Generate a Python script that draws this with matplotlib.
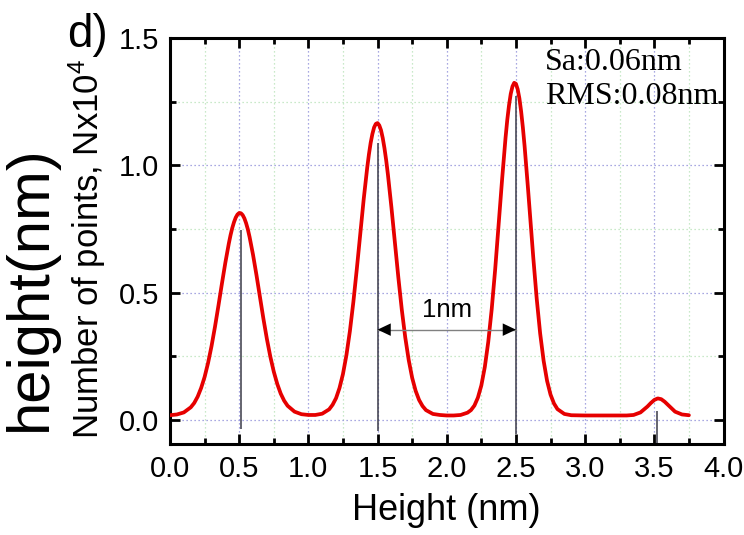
import matplotlib
matplotlib.use("Agg")
import matplotlib.pyplot as plt
from matplotlib.ticker import MultipleLocator, FormatStrFormatter

plt.rcParams['font.family'] = ['Liberation Sans', 'DejaVu Sans']
plt.rcParams['mathtext.fontset'] = 'custom'
plt.rcParams['mathtext.rm'] = 'Liberation Sans'
plt.rcParams['mathtext.it'] = 'Liberation Sans'

# Height histogram (number of points, x10^4) versus height in nm
height_nm = [0.00, 0.05, 0.10, 0.15, 0.175, 0.20, 0.225, 0.25, 0.275, 0.30, 0.325, 0.35,
             0.375, 0.40, 0.425, 0.4375, 0.45, 0.4625, 0.475, 0.4875, 0.50, 0.5125, 0.525,
             0.5375, 0.55, 0.5625, 0.575, 0.60, 0.625, 0.65, 0.675, 0.70, 0.725, 0.75,
             0.775, 0.80, 0.825, 0.85, 0.90, 0.95, 1.00,
             1.05, 1.10, 1.15, 1.175, 1.20, 1.225, 1.25, 1.275, 1.30, 1.325, 1.35, 1.375,
             1.40, 1.425, 1.4375, 1.45, 1.4625, 1.475, 1.4875, 1.50, 1.5125, 1.525, 1.5375,
             1.55, 1.5625, 1.575, 1.60, 1.625, 1.65, 1.675, 1.70, 1.725, 1.75, 1.775, 1.80,
             1.825, 1.85, 1.90, 1.95, 2.00,
             2.05, 2.10, 2.15, 2.175, 2.20, 2.225, 2.25, 2.275, 2.30, 2.325, 2.35, 2.375,
             2.40, 2.425, 2.4375, 2.45, 2.4625, 2.475, 2.4875, 2.50, 2.5125, 2.525, 2.5375,
             2.55, 2.5625, 2.575, 2.5875, 2.60, 2.625, 2.65, 2.675, 2.70, 2.725, 2.75,
             2.775, 2.80, 2.85, 2.90,
             3.00, 3.10, 3.20, 3.30, 3.35, 3.40, 3.45, 3.475, 3.50, 3.525, 3.55, 3.575,
             3.60, 3.65, 3.70, 3.75]
n_points = [0.019, 0.022, 0.030, 0.050, 0.067, 0.092, 0.126, 0.169, 0.224, 0.290, 0.366, 0.449,
            0.535, 0.618, 0.693, 0.726, 0.754, 0.777, 0.795, 0.807, 0.813, 0.812, 0.805,
            0.792, 0.773, 0.749, 0.719, 0.649, 0.569, 0.483, 0.398, 0.319, 0.249, 0.190,
            0.142, 0.104, 0.076, 0.056, 0.033, 0.023, 0.020,
            0.020, 0.025, 0.042, 0.060, 0.086, 0.126, 0.181, 0.255, 0.349, 0.463, 0.593, 0.731,
            0.868, 0.990, 1.043, 1.088, 1.123, 1.149, 1.163, 1.166, 1.157, 1.138, 1.107,
            1.067, 1.019, 0.963, 0.836, 0.698, 0.561, 0.434, 0.325, 0.236, 0.166, 0.115, 0.079,
            0.055, 0.039, 0.024, 0.020, 0.018,
            0.018, 0.020, 0.029, 0.039, 0.057, 0.088, 0.136, 0.208, 0.307, 0.436, 0.592, 0.767,
            0.945, 1.109, 1.179, 1.236, 1.281, 1.310, 1.324, 1.320, 1.299, 1.263, 1.212,
            1.149, 1.076, 0.994, 0.907, 0.817, 0.640, 0.477, 0.340, 0.233, 0.154, 0.100,
            0.065, 0.043, 0.024, 0.019,
            0.018, 0.018, 0.018, 0.018, 0.020, 0.030, 0.053, 0.067, 0.079, 0.085, 0.082, 0.072,
            0.059, 0.033, 0.022, 0.019]

# Terrace level markers (position, top, bottom)
level_x = [0.51, 1.50, 2.50, 3.52]
level_top = [0.745, 1.086, 1.274, 0.037]
level_bottom = [-0.035, -0.044, -0.054, -0.090]

# Step spacing annotation
step_start, step_end, step_y = 1.5, 2.5, 0.355
step_label = "1nm"

x_ticks = [0.0, 0.5, 1.0, 1.5, 2.0, 2.5, 3.0, 3.5, 4.0]
y_ticks = [0.0, 0.5, 1.0, 1.5]

W, H = 744, 535
fig = plt.figure(figsize=(W / 100, H / 100), dpi=100)
ax = fig.add_axes([170 / W, 1 - 443.5 / H, (723.5 - 170) / W, (443.5 - 38) / H])

ax.set_xlim(0, 4)
ax.set_ylim(-0.092, 1.5)
ax.set_xticks(x_ticks)
ax.set_yticks(y_ticks)
ax.xaxis.set_minor_locator(MultipleLocator(0.25))
ax.yaxis.set_minor_locator(MultipleLocator(0.25))
ax.xaxis.set_major_formatter(FormatStrFormatter('%.1f'))
ax.yaxis.set_major_formatter(FormatStrFormatter('%.1f'))

ax.set_axisbelow(True)
ax.grid(which='major', color='#8c8cd8', linestyle=(0, (1, 2.2)), linewidth=0.9)
ax.grid(which='minor', color='#b8e2b8', linestyle=(0, (1, 2.2)), linewidth=0.9)

for s in ax.spines.values():
    s.set_linewidth(2.2)
ax.tick_params(which='both', direction='in', top=True, right=True, width=2.0,
               labelsize=21, pad=8)
ax.tick_params(which='major', length=7)
ax.tick_params(which='minor', length=4)

ax.plot(height_nm, n_points, color='#e60000', lw=2.7, solid_joinstyle='round',
        solid_capstyle='round', zorder=3)

ax.vlines(level_x, level_bottom, level_top, color='#3a3a48', lw=1.1, zorder=4)

# double arrow: grey shaft with black heads
ax.plot([step_start, step_end], [step_y, step_y], color='#808080', lw=1.0, zorder=4)
ax.annotate('', xy=(step_end, step_y), xytext=(step_start, step_y),
            arrowprops=dict(arrowstyle='<|-|>,head_length=0.95,head_width=0.45',
                            mutation_scale=10, fc='black', ec='black', lw=0,
                            shrinkA=0, shrinkB=0), zorder=5)
ax.text((step_start + step_end) / 2, step_y + 0.03, step_label, ha='center',
        va='bottom', fontsize=18.5)

fig.text(446 / W, 1 - 511 / H, 'Height (nm)', ha='center', va='center', fontsize=26)
fig.text(99 / W, 1 - 249 / H, 'Number of points, Nx10$^4$', rotation=90,
         rotation_mode='anchor', ha='center', va='baseline', fontsize=25)
fig.text(46 / W, 1 - 288 / H, 'height(nm)', rotation=90, rotation_mode='anchor',
         ha='center', va='baseline', fontsize=43)
fig.text(67 / W, 1 - 47 / H, 'd)', ha='left', va='baseline', fontsize=33)

fig.text(545 / W, 1 - 70 / H, 'Sa:0.06nm', ha='left', va='baseline', fontsize=23,
         family='Liberation Serif')
fig.text(545 / W, 1 - 104 / H, 'RMS:0.08nm', ha='left', va='baseline', fontsize=23,
         family='Liberation Serif')

fig.savefig('out.png', dpi=100)
